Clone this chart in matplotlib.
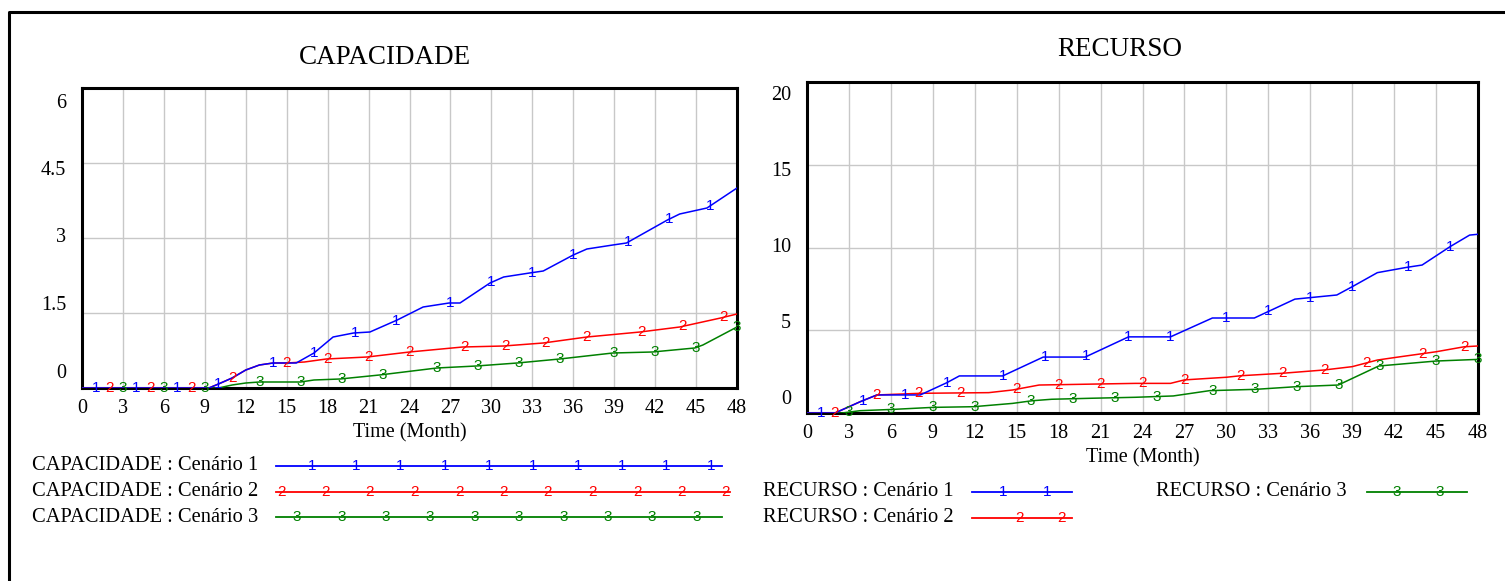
import numpy as np
import matplotlib
matplotlib.use("Agg")
import matplotlib.pyplot as plt
from matplotlib.lines import Line2D

W, H = 1505, 581
BLUE, RED, GREEN = "#0000ff", "#ff0000", "#008000"
SERIF = "Liberation Serif"
MARK_FONT = "Liberation Sans"
MARK_SIZE = 11

# --- data (breakpoints of each run) ---
months = [0, 3, 6, 9, 12, 15, 18, 21, 24, 27, 30, 33, 36, 39, 42, 45, 48]

cap1_t = [0, 9.3, 10, 11, 12, 13, 14, 15.7, 17, 18.4, 19.9, 21.1, 23.1, 25, 26.9, 27.7, 29.9,
          30.9, 32.8, 33.8, 36, 37, 38.9, 39.9, 42.9, 43.8, 45.8, 48]
cap1_v = [0, 0, 0.08, 0.2, 0.36, 0.46, 0.5, 0.5, 0.7, 1.02, 1.1, 1.12, 1.36, 1.62, 1.7, 1.7, 2.1,
          2.22, 2.3, 2.34, 2.66, 2.78, 2.86, 2.9, 3.36, 3.48, 3.6, 4.0]
cap2_t = [0, 9.3, 10, 11, 12, 13, 14, 15, 16.3, 17.9, 20.9, 24, 27.9, 30.9, 33.8, 37, 40.9, 43.8, 46.8, 48]
cap2_v = [0, 0, 0.08, 0.2, 0.36, 0.46, 0.5, 0.5, 0.52, 0.58, 0.62, 0.72, 0.82, 0.84, 0.9, 1.02, 1.12,
          1.22, 1.4, 1.48]
cap3_t = [0, 10, 11, 12, 13, 16, 17, 18.9, 21.8, 26, 28.9, 31.9, 35, 38.9, 41.8, 44.9, 45.5, 48]
cap3_v = [0, 0, 0.06, 0.1, 0.12, 0.12, 0.16, 0.18, 0.26, 0.4, 0.44, 0.5, 0.58, 0.7, 0.72, 0.8, 0.86, 1.22]

rec1_t = [0, 2, 3.8, 5, 8.1, 10, 10.9, 14, 16.9, 19.9, 23, 26, 29, 32, 34.9, 37.9, 39, 40.8,
          42.9, 44, 46, 47.4, 48]
rec1_v = [0, 0, 0.68, 1.09, 1.09, 1.83, 2.24, 2.24, 3.38, 3.38, 4.6, 4.6, 5.74, 5.74, 6.88, 7.13,
          7.63, 8.48, 8.8, 8.94, 10.05, 10.75, 10.8]
rec2_t = [0, 2, 3.8, 5, 8.1, 13, 14.7, 16.6, 20.7, 23.5, 26, 27, 30, 31, 34, 37, 39, 40.8, 42.2, 45, 47, 48]
rec2_v = [0, 0, 0.68, 1.09, 1.19, 1.23, 1.39, 1.69, 1.75, 1.79, 1.79, 2.0, 2.16, 2.25, 2.4, 2.6, 2.8,
          3.2, 3.37, 3.7, 4.0, 4.05]
rec3_t = [0, 2.5, 3.8, 6.2, 9, 11.9, 14.7, 16.1, 17.5, 20.3, 23.5, 26.2, 28.8, 32.1, 35, 38, 40.9, 45, 48]
rec3_v = [0, 0, 0.14, 0.22, 0.34, 0.38, 0.58, 0.74, 0.83, 0.89, 0.95, 1.03, 1.35, 1.43, 1.59, 1.69,
          2.84, 3.14, 3.24]

# where the numbered labels sit along each run
cap1_mk = [1, 4, 7, 10, 14, 17, 20, 23, 27, 30, 33, 36, 40, 43, 46]
cap2_mk = [2, 5, 8, 11, 15, 18, 21, 24, 28, 31, 34, 37, 41, 44, 47]
cap3_mk = [3, 6, 9, 13, 16, 19, 22, 26, 29, 32, 35, 39, 42, 45, 48]
rec1_mk = [1, 4, 7, 10, 14, 17, 20, 23, 26, 30, 33, 36, 39, 43, 46]
rec2_mk = [2, 5, 8, 11, 15, 18, 21, 24, 27, 31, 34, 37, 40, 44, 47]
rec3_mk = [3, 6, 9, 12, 16, 19, 22, 25, 29, 32, 35, 38, 41, 45, 48]

cap_ticks = [0, 1.5, 3, 4.5, 6]
cap_labels = ["0", "1.5", "3", "4.5", "6"]
rec_ticks = [0, 5, 10, 15, 20]
rec_labels = ["0", "5", "10", "15", "20"]


def fx(x):
    return x / W


def fy(y):
    return 1 - y / H


def px2pt(p):
    return p * 72 / 100


def draw_run(ax, t, v, marks, num, color):
    ax.plot(t, v, color=color, lw=1.1, zorder=3)
    for m in marks:
        y = np.interp(m, t, v)
        ax.text(m, y, str(num), color=color, ha="center", va="center", fontsize=MARK_SIZE,
                family=MARK_FONT, zorder=4, clip_on=False)


def setup_axes(ax, yticks, ylabels, ymax, inset_px):
    ax.set_xlim(0, 48)
    ax.set_ylim(0, ymax)
    ax.set_xticks(months)
    ax.set_xticklabels([str(m) for m in months], family=SERIF, fontsize=14.5)
    ax.set_yticks(yticks)
    ax.set_yticklabels([])
    ax.tick_params(length=0)
    ax.tick_params(axis="x", pad=px2pt(11))
    ax.grid(True, color="#c8c8c8", lw=1.0)
    ax.set_axisbelow(True)
    for s in ax.spines.values():
        s.set_linewidth(2.2)
        s.set_color("black")
    # Vensim-style value labels: spread evenly, first/last pulled inside the frame
    h_px = ax.get_position().height * H
    fracs = np.linspace(inset_px / h_px, 1 - inset_px / h_px, len(ylabels))
    for f, lab in zip(fracs, ylabels):
        ax.annotate(lab, xy=(0, f), xycoords="axes fraction", xytext=(-px2pt(16), 0),
                    textcoords="offset points", ha="right", va="center",
                    family=SERIF, fontsize=14.5)
    ax.annotate("Time (Month)", xy=(0.5, 0), xycoords="axes fraction",
                xytext=(0, -px2pt(45)), textcoords="offset points", ha="center",
                va="center", family=SERIF, fontsize=14.5)


def legend_row(x_text, y, label, x0, x1, marks, num, color):
    fig.text(fx(x_text), fy(y), label, ha="right", va="center", family=SERIF, fontsize=14.8)
    fig.add_artist(Line2D([fx(x0), fx(x1)], [fy(y), fy(y)], color=color, lw=1.3))
    for m in marks:
        fig.text(fx(m), fy(y), str(num), color=color, ha="center", va="center",
                 fontsize=MARK_SIZE, family=MARK_FONT)


fig = plt.figure(figsize=(W / 100, H / 100), dpi=100)

ax1 = fig.add_axes([fx(82), fy(388), (737 - 82) / W, (388 - 88) / H])
setup_axes(ax1, cap_ticks, cap_labels, 6, 15)
draw_run(ax1, cap3_t, cap3_v, cap3_mk, 3, GREEN)
draw_run(ax1, cap2_t, cap2_v, cap2_mk, 2, RED)
draw_run(ax1, cap1_t, cap1_v, cap1_mk, 1, BLUE)

ax2 = fig.add_axes([fx(807), fy(413), (1478 - 807) / W, (413 - 82) / H])
setup_axes(ax2, rec_ticks, rec_labels, 20, 13)
draw_run(ax2, rec3_t, rec3_v, rec3_mk, 3, GREEN)
draw_run(ax2, rec2_t, rec2_v, rec2_mk, 2, RED)
draw_run(ax2, rec1_t, rec1_v, rec1_mk, 1, BLUE)

fig.text(fx(385), fy(57), "CAPACIDADE", ha="center", va="center", family=SERIF, fontsize=19.5)
fig.text(fx(1120), fy(50), "RECURSO", ha="center", va="center", family=SERIF, fontsize=19.5)

# legends
legend_row(258, 466, "CAPACIDADE : Cenário 1", 276, 722, np.arange(312, 720, 44.3), 1, BLUE)
legend_row(258, 492, "CAPACIDADE : Cenário 2", 276, 730, np.arange(281, 732, 44.5), 2, RED)
legend_row(258, 517, "CAPACIDADE : Cenário 3", 276, 722, np.arange(297, 700, 44.4), 3, GREEN)
legend_row(954, 492, "RECURSO : Cenário 1", 972, 1072, [1003, 1047], 1, BLUE)
legend_row(954, 518, "RECURSO : Cenário 2", 972, 1072, [1020, 1062], 2, RED)
legend_row(1347, 492, "RECURSO : Cenário 3", 1367, 1467, [1397, 1440], 3, GREEN)

# outer frame (left and top edges only)
fig.add_artist(Line2D([fx(9), fx(9), fx(W)], [fy(H), fy(12), fy(12)], color="black", lw=2.2))

fig.savefig("out.png", dpi=100)
